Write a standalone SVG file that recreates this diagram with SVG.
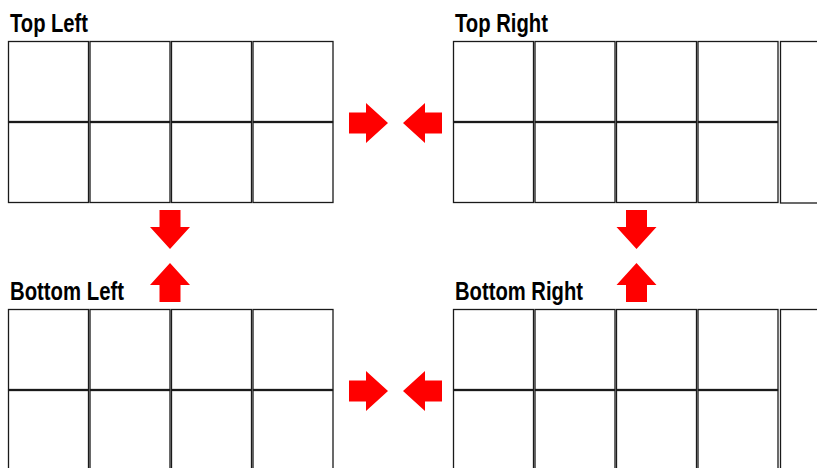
<svg xmlns="http://www.w3.org/2000/svg" width="817" height="468" viewBox="0 0 817 468">
<style>
.c{fill:#fff;stroke:#1a1a1a;stroke-width:1.3}
.t{font-family:"Liberation Sans Narrow","Liberation Sans",Arial,sans-serif;font-weight:bold;font-size:25px;fill:#000}
.a{fill:#ff0000}
</style>
<defs>
<g id="grid">
<rect class="c" x="0.5" y="0.5" width="80" height="80"/>
<rect class="c" x="82" y="0.5" width="80" height="80"/>
<rect class="c" x="163.5" y="0.5" width="80" height="80"/>
<rect class="c" x="245" y="0.5" width="80" height="80"/>
<rect class="c" x="0.5" y="81.5" width="80" height="80"/>
<rect class="c" x="82" y="81.5" width="80" height="80"/>
<rect class="c" x="163.5" y="81.5" width="80" height="80"/>
<rect class="c" x="245" y="81.5" width="80" height="80"/>
</g>
<polygon id="ar" points="0,-10.5 17,-10.5 17,-20 39,0 17,20 17,10.5 0,10.5"/>
</defs>
<rect width="817" height="468" fill="#fff"/>
<g id="top-left">
<text class="t" x="10" y="32" textLength="78" lengthAdjust="spacingAndGlyphs">Top Left</text>
<use href="#grid" x="8" y="41"/>
</g>
<g id="top-right">
<text class="t" x="455" y="32" textLength="93" lengthAdjust="spacingAndGlyphs">Top Right</text>
<use href="#grid" x="453" y="41"/>
<rect class="c" x="780.5" y="41.5" width="60" height="161.5"/>
</g>
<g id="bottom-left">
<text class="t" x="10" y="300" textLength="114" lengthAdjust="spacingAndGlyphs">Bottom Left</text>
<use href="#grid" x="8" y="309"/>
</g>
<g id="bottom-right">
<text class="t" x="455" y="300" textLength="128" lengthAdjust="spacingAndGlyphs">Bottom Right</text>
<use href="#grid" x="453" y="309"/>
<rect class="c" x="780.5" y="309.5" width="60" height="200"/>
</g>
<g id="connectors" class="a">
<use href="#ar" transform="translate(349,123)"/>
<use href="#ar" transform="translate(442,123) scale(-1,1)"/>
<use href="#ar" transform="translate(349,391)"/>
<use href="#ar" transform="translate(442,391) scale(-1,1)"/>
<use href="#ar" transform="translate(170,210) rotate(90)"/>
<use href="#ar" transform="translate(170,302) rotate(-90)"/>
<use href="#ar" transform="translate(636.5,210) rotate(90)"/>
<use href="#ar" transform="translate(636.5,302) rotate(-90)"/>
</g>
</svg>
